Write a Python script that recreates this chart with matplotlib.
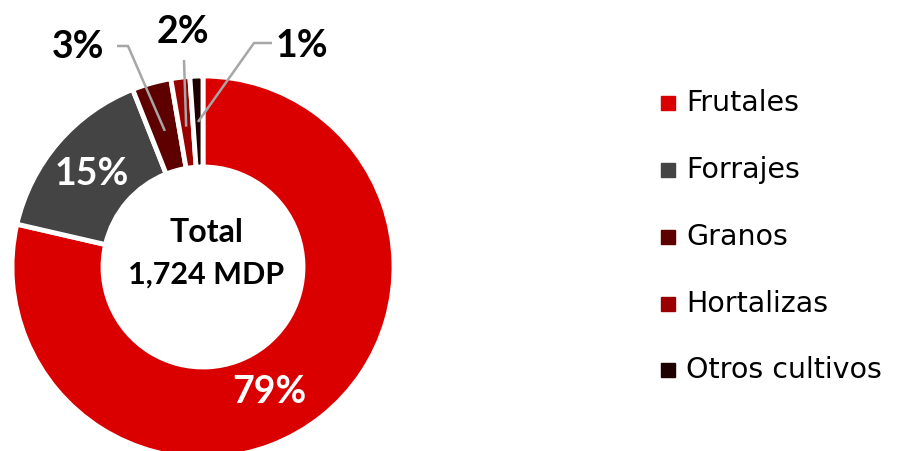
import numpy as np
import matplotlib.pyplot as plt

# datos (porcentaje del valor total)
cultivos = ["Frutales", "Forrajes", "Granos", "Hortalizas", "Otros cultivos"]
valores = [78.6, 15.4, 3.3, 1.6, 1.1]
etiquetas = ["79%", "15%", "3%", "2%", "1%"]
colores = ["#DA0000", "#444444", "#5E0000", "#9A0000", "#1E0000"]

W, H = 908, 451
fig = plt.figure(figsize=(W / 100, H / 100), dpi=100)
ax = fig.add_axes([0, 0, 1, 1])

cx, cy, R = 203, H - 267, 191
wedges, _ = ax.pie(valores, colors=colores, startangle=90, counterclock=False,
                   radius=R, center=(cx, cy),
                   wedgeprops=dict(width=91, edgecolor="white", linewidth=3.5))
ax.set_xlim(0, W)
ax.set_ylim(0, H)
ax.set_aspect("equal")
ax.axis("off")

f_pct = "Lato"
f_txt = "DejaVu Sans"

# etiquetas dentro del anillo
ax.text(269, H - 392, etiquetas[0], color="white", fontsize=27, fontweight="bold",
        family=f_pct, ha="center", va="center")
ax.text(92, H - 174, etiquetas[1], color="white", fontsize=27, fontweight="bold",
        family=f_pct, ha="center", va="center")

# etiquetas externas con lineas guia
def punta(w, frac=0.78):
    ang = np.deg2rad((w.theta1 + w.theta2) / 2)
    return cx + R * frac * np.cos(ang), cy + R * frac * np.sin(ang)

externas = [
    (2, (78, H - 47), [(117, H - 46), (128, H - 46)], 0.74),
    (3, (183, H - 32), [(184, H - 60)], 0.74),
    (4, (302, H - 46), [(272, H - 43), (254, H - 43)], 0.76),
]
for i, (tx, ty), codo, frac in externas:
    ax.text(tx, ty, etiquetas[i], color="black", fontsize=27, fontweight="bold",
            family=f_pct, ha="center", va="center")
    px, py = punta(wedges[i], frac)
    pts = codo + [(px, py)]
    ax.plot([p[0] for p in pts], [p[1] for p in pts], color="#A6A6A6", lw=1.8,
            solid_capstyle="butt")

# texto central
ax.text(cx + 3, H - 233, "Total", fontsize=23, fontweight="bold", family=f_pct,
        ha="center", va="center")
ax.text(cx + 3, H - 275, "1,724 MDP", fontsize=22, fontweight="bold", family=f_pct,
        ha="center", va="center")

# leyenda
ys = [103, 170, 237, 304, 370]
for nombre, col, y in zip(cultivos, colores, ys):
    ax.add_patch(plt.Rectangle((661, H - y - 7), 14, 14, color=col))
    ax.text(686, H - y, nombre, fontsize=20.5, family=f_txt, ha="left", va="center")

fig.savefig("out.png", dpi=100)
